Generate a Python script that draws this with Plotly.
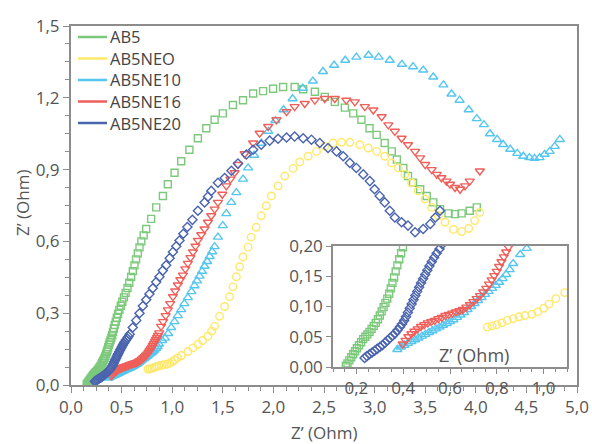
import plotly.graph_objects as go

# ---------------- data ----------------
names = ["AB5", "AB5NEO", "AB5NE10", "AB5NE16", "AB5NE20"]

ab5_x = [0.155,0.162,0.170,0.178,0.186,0.194,0.202,0.211,0.220,0.229,0.238,0.247,0.256,0.265,0.274,0.283,
         0.292,0.300,0.308,0.316,0.324,0.332,0.340,0.347,0.354,0.361,0.368,0.375,0.383,0.391,0.399,0.407,
         0.415,0.423,0.432,0.442,0.453,0.465,0.478,0.492,0.507,0.523,0.540,0.558,0.576,0.594,0.611,0.627,
         0.643,0.660,0.677,0.695,0.718,0.743,0.792,0.842,0.908,0.957,1.023,1.089,1.170,1.254,1.337,1.419,
         1.500,1.600,1.700,1.800,1.898,1.997,2.096,2.210,2.294,2.410,2.508,2.607,2.706,2.789,2.870,2.950,
         3.020,3.100,3.170,3.220,3.284,3.330,3.380,3.450,3.515,3.580,3.646,3.730,3.795,3.860,3.940,4.010]
ab5_y = [0.002,0.006,0.011,0.016,0.021,0.026,0.031,0.036,0.041,0.046,0.050,0.054,0.058,0.063,0.068,0.073,
         0.079,0.085,0.092,0.099,0.106,0.113,0.121,0.130,0.139,0.148,0.158,0.168,0.178,0.188,0.198,0.209,
         0.222,0.236,0.250,0.265,0.281,0.297,0.314,0.331,0.348,0.366,0.385,0.405,0.427,0.451,0.476,0.500,
         0.525,0.550,0.575,0.600,0.625,0.652,0.694,0.742,0.790,0.839,0.887,0.935,0.983,1.031,1.073,1.108,
         1.135,1.170,1.190,1.218,1.228,1.238,1.245,1.245,1.236,1.225,1.204,1.183,1.159,1.135,1.108,1.073,
         1.045,1.011,0.976,0.942,0.907,0.873,0.845,0.818,0.790,0.763,0.735,0.717,0.714,0.717,0.728,0.742]

ab5neo_x = [0.760,0.780,0.800,0.822,0.845,0.870,0.895,0.920,0.950,0.975,1.000,1.023,1.052,1.090,1.155,1.205,
            1.254,1.300,1.353,1.390,1.419,1.468,1.518,1.567,1.600,1.634,1.666,1.700,1.750,1.780,1.830,1.880,
            1.930,1.980,2.046,2.112,2.195,2.260,2.343,2.426,2.508,2.590,2.673,2.755,2.854,2.937,3.020,3.100,
            3.168,3.234,3.300,3.366,3.430,3.498,3.564,3.630,3.696,3.780,3.860,3.930,3.990,4.040]
ab5neo_y = [0.066,0.068,0.070,0.073,0.077,0.080,0.083,0.085,0.087,0.091,0.097,0.104,0.113,0.123,0.140,0.155,
            0.170,0.186,0.204,0.225,0.245,0.287,0.328,0.369,0.410,0.452,0.494,0.535,0.576,0.618,0.659,0.707,
            0.749,0.790,0.832,0.873,0.905,0.932,0.956,0.976,0.997,1.011,1.014,1.014,1.004,0.990,0.976,0.956,
            0.928,0.907,0.880,0.845,0.811,0.777,0.742,0.707,0.680,0.650,0.641,0.654,0.687,0.721]

ab5ne10_x = [0.375,0.390,0.405,0.420,0.435,0.450,0.465,0.480,0.495,0.510,0.525,0.540,0.555,0.570,0.586,0.600,
             0.615,0.630,0.645,0.660,0.675,0.690,0.705,0.720,0.735,0.750,0.765,0.780,0.795,0.810,0.825,0.840,
             0.855,0.870,0.900,0.928,0.960,0.990,1.023,1.055,1.089,1.120,1.155,1.190,1.220,1.245,1.270,1.295,
             1.320,1.345,1.370,1.395,1.419,1.452,1.500,1.535,1.584,1.634,1.700,1.750,1.810,1.880,1.950,2.020,
             2.100,2.190,2.290,2.390,2.490,2.600,2.710,2.820,2.940,3.040,3.150,3.270,3.380,3.480,3.580,3.680,
             3.760,3.840,3.930,4.010,4.080,4.140,4.210,4.270,4.340,4.410,4.470,4.530,4.580,4.630,4.680,4.730,
             4.780,4.830]
ab5ne10_y = [0.029,0.033,0.036,0.039,0.042,0.045,0.048,0.051,0.054,0.057,0.060,0.063,0.066,0.069,0.072,0.075,
             0.078,0.082,0.086,0.090,0.095,0.100,0.105,0.110,0.115,0.120,0.125,0.130,0.135,0.140,0.146,0.153,
             0.161,0.171,0.186,0.196,0.215,0.240,0.265,0.290,0.315,0.340,0.365,0.390,0.415,0.435,0.455,0.475,
             0.496,0.516,0.537,0.557,0.578,0.618,0.666,0.716,0.763,0.804,0.860,0.907,0.960,1.010,1.060,1.105,
             1.150,1.196,1.240,1.270,1.310,1.336,1.357,1.370,1.378,1.370,1.357,1.340,1.330,1.316,1.287,1.254,
             1.216,1.190,1.150,1.113,1.088,1.050,1.026,1.005,0.985,0.968,0.956,0.950,0.947,0.950,0.964,0.976,
             0.997,1.026]

ab5ne16_x = [0.398,0.410,0.422,0.435,0.448,0.462,0.476,0.490,0.505,0.520,0.535,0.550,0.565,0.580,0.595,0.610,
             0.625,0.640,0.655,0.670,0.685,0.700,0.714,0.728,0.742,0.755,0.767,0.778,0.789,0.800,0.810,0.820,
             0.830,0.840,0.850,0.860,0.872,0.890,0.910,0.935,0.957,0.980,1.007,1.030,1.056,1.080,1.106,1.130,
             1.155,1.180,1.205,1.230,1.254,1.287,1.320,1.353,1.386,1.420,1.452,1.495,1.535,1.575,1.617,1.650,
             1.716,1.800,1.864,1.948,2.030,2.130,2.210,2.310,2.410,2.508,2.607,2.720,2.805,2.904,2.987,3.070,
             3.136,3.200,3.267,3.330,3.400,3.450,3.500,3.564,3.614,3.660,3.710,3.745,3.795,3.845,3.894,3.940,
             4.040]
ab5ne16_y = [0.038,0.044,0.050,0.055,0.059,0.063,0.067,0.070,0.073,0.075,0.077,0.080,0.082,0.085,0.087,0.089,
             0.091,0.093,0.095,0.099,0.103,0.108,0.113,0.118,0.124,0.130,0.137,0.144,0.151,0.158,0.166,0.174,
             0.182,0.190,0.198,0.207,0.218,0.245,0.265,0.290,0.314,0.340,0.369,0.393,0.418,0.440,0.459,0.485,
             0.508,0.532,0.556,0.580,0.604,0.628,0.652,0.680,0.707,0.735,0.763,0.797,0.832,0.860,0.887,0.921,
             0.966,1.011,1.052,1.080,1.108,1.142,1.163,1.176,1.190,1.197,1.197,1.190,1.183,1.163,1.149,1.121,
             1.087,1.060,1.031,1.004,0.976,0.949,0.921,0.900,0.880,0.866,0.852,0.839,0.825,0.818,0.832,0.852,
             0.894]

ab5ne20_x = [0.235,0.245,0.256,0.267,0.278,0.289,0.300,0.311,0.322,0.333,0.344,0.355,0.366,0.376,0.386,0.395,
             0.404,0.412,0.420,0.428,0.436,0.444,0.452,0.460,0.468,0.476,0.485,0.494,0.503,0.512,0.522,0.532,
             0.543,0.555,0.567,0.580,0.610,0.645,0.677,0.710,0.743,0.775,0.808,0.842,0.874,0.907,0.940,0.975,
             1.007,1.040,1.072,1.110,1.150,1.200,1.254,1.320,1.353,1.386,1.452,1.518,1.585,1.650,1.733,1.800,
             1.880,1.963,2.046,2.130,2.210,2.294,2.376,2.458,2.540,2.624,2.690,2.755,2.820,2.888,2.953,3.000,
             3.050,3.100,3.150,3.200,3.267,3.330,3.400,3.480,3.550,3.600,3.646]
ab5ne20_y = [0.015,0.018,0.021,0.024,0.027,0.030,0.033,0.036,0.040,0.044,0.048,0.052,0.056,0.061,0.066,0.071,
             0.077,0.083,0.090,0.097,0.104,0.111,0.118,0.125,0.132,0.139,0.146,0.153,0.160,0.167,0.174,0.181,
             0.188,0.195,0.203,0.212,0.240,0.270,0.300,0.330,0.356,0.380,0.404,0.430,0.452,0.478,0.500,0.530,
             0.556,0.580,0.604,0.632,0.660,0.690,0.728,0.763,0.787,0.811,0.845,0.865,0.895,0.925,0.963,0.983,
             1.004,1.021,1.029,1.034,1.038,1.031,1.025,1.011,0.990,0.976,0.956,0.928,0.907,0.880,0.852,0.818,
             0.790,0.763,0.728,0.700,0.680,0.666,0.638,0.652,0.673,0.700,0.728]

series_x = [ab5_x, ab5neo_x, ab5ne10_x, ab5ne16_x, ab5ne20_x]
series_y = [ab5_y, ab5neo_y, ab5ne10_y, ab5ne16_y, ab5ne20_y]

main_ticks = [0.0, 0.5, 1.0, 1.5, 2.0, 2.5, 3.0, 3.5, 4.0, 4.5, 5.0]
axis_title = "Z’ (Ohm)"

# ---------------- styles ----------------
colors = ["#7cc97c", "#ffe86a", "#55c6f0", "#ef5f5a", "#4b64ae"]
symbols = ["square-open", "circle-open", "triangle-up-open", "triangle-down-open", "diamond-open"]
sizes = [7, 7.5, 8, 8, 7]

FONT = "Open Sans"
TXT = "#555555"
AX = "#8c8c8c"

W, H = 592, 444
L, R, T, B = 71, 15, 26, 59
PW, PH = W - L - R, H - T - B


def px_x(p):  # pixel -> paper x
    return (p - L) / PW


def px_y(p):  # pixel -> paper y
    return (H - B - p) / PH


fig = go.Figure()

for n, xs, ys, c, s, sz in zip(names, series_x, series_y, colors, symbols, sizes):
    for xa, ya in (("x", "y"), ("x2", "y2")):
        fig.add_trace(go.Scatter(
            x=xs, y=ys, mode="markers", xaxis=xa, yaxis=ya, showlegend=False, name=n,
            marker=dict(symbol=s, size=sz, color=c, line=dict(color=c, width=1.4)),
            hoverinfo="skip"))

tickfont = dict(family=FONT, size=17, color=TXT)

# legend (line samples + labels)
legend_rows = [37, 58.5, 80, 101.5, 123]
shapes = []
annotations = []
for n, c, py in zip(names, colors, legend_rows):
    shapes.append(dict(type="line", xref="paper", yref="paper",
                       x0=px_x(78), x1=px_x(107), y0=px_y(py), y1=px_y(py),
                       line=dict(color=c, width=2.5)))
    annotations.append(dict(text=n, xref="paper", yref="paper", x=px_x(109), y=px_y(py),
                            xanchor="left", yanchor="middle", showarrow=False, borderpad=0,
                            font=dict(family=FONT, size=16.5, color="#444444")))

annotations += [
    dict(text=axis_title, xref="paper", yref="paper", x=0.5, y=px_y(432),
         xanchor="center", yanchor="middle", showarrow=False,
         font=dict(family=FONT, size=17, color=TXT)),
    dict(text=axis_title, xref="paper", yref="paper", x=px_x(22), y=px_y(203),
         xanchor="center", yanchor="middle", showarrow=False, textangle=-90,
         font=dict(family=FONT, size=17, color=TXT)),
    dict(text=axis_title, xref="paper", yref="paper", x=px_x(474), y=px_y(355),
         xanchor="center", yanchor="middle", showarrow=False,
         font=dict(family=FONT, size=18, color=TXT)),
]

fig.update_layout(
    width=W, height=H,
    margin=dict(l=L, r=R, t=T, b=B, autoexpand=False),
    paper_bgcolor="white", plot_bgcolor="white",
    separators=",.",
    font=dict(family=FONT, color=TXT),
    showlegend=False,
    shapes=shapes,
    annotations=annotations,
    xaxis=dict(range=[0, 5], tickvals=main_ticks, tickformat=".1f", automargin=False,
               ticks="outside", ticklen=6, tickwidth=1.3, tickcolor=AX,
               showline=True, linecolor=AX, linewidth=2, mirror=True,
               showgrid=False, zeroline=False, tickfont=tickfont,
               minor=dict(dtick=0.125, ticks="outside", ticklen=4, tickcolor=AX, showgrid=False)),
    yaxis=dict(range=[0, 1.5], dtick=0.3, tickformat=".1f", automargin=False,
               ticks="outside", ticklen=6, tickwidth=1.3, tickcolor=AX,
               showline=True, linecolor=AX, linewidth=2, mirror=True,
               showgrid=False, zeroline=False, tickfont=tickfont,
               minor=dict(dtick=0.075, ticks="outside", ticklen=4, tickcolor=AX, showgrid=False)),
    xaxis2=dict(domain=[px_x(333), px_x(567)], anchor="y2", range=[0.1, 1.1], automargin=False,
                tick0=0.2, dtick=0.2, tickformat=".1f",
                ticks="outside", ticklen=5, tickcolor=AX,
                showline=True, linecolor=AX, linewidth=1.5, mirror=True,
                showgrid=False, zeroline=False, tickfont=tickfont,
                minor=dict(dtick=0.05, ticks="outside", ticklen=3, tickcolor=AX, showgrid=False)),
    yaxis2=dict(domain=[px_y(367), px_y(246)], anchor="x2", range=[0, 0.2], automargin=False,
                dtick=0.05, tickformat=".2f",
                ticks="outside", ticklen=5, tickcolor=AX,
                showline=True, linecolor=AX, linewidth=1.5, mirror=True,
                showgrid=False, zeroline=False, tickfont=tickfont),
)

fig.write_html("out.html", config={"displayModeBar": False},
               post_script="document.body.style.margin='0';")
